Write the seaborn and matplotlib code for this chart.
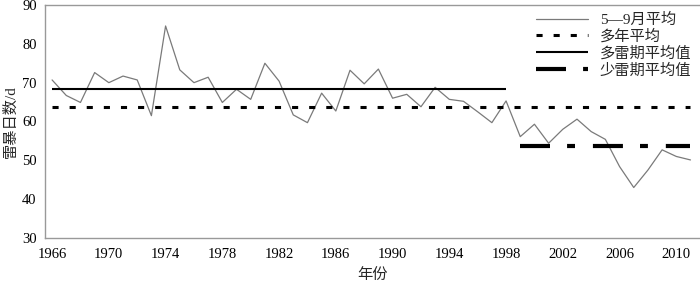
import matplotlib
matplotlib.use("Agg")
import matplotlib.pyplot as plt
import seaborn as sns
import pandas as pd

years = list(range(1966, 2012))
values = [70.7, 66.7, 64.9, 72.6, 70.0, 71.7, 70.7, 61.5, 84.6, 73.3,
          70.0, 71.4, 64.9, 68.3, 65.7, 75.0, 70.4, 61.7, 59.7, 67.3,
          62.7, 73.2, 69.7, 73.5, 66.0, 67.0, 63.8, 68.8, 65.7, 65.2,
          62.5, 59.7, 65.3, 56.1, 59.3, 54.4, 58.0, 60.6, 57.4, 55.4,
          48.4, 43.0, 47.5, 52.7, 51.0, 50.1]
overall_mean = 63.7
high_period = (1966, 1998)
high_mean = 68.3
low_period = (1999, 2011)
low_mean = 53.7
labels = ["5\u20149月平均", "多年平均", "多雷期平均值", "少雷期平均值"]
xticks = list(range(1966, 2012, 4))
yticks = list(range(30, 91, 10))

sns.set_theme(style="white")
plt.rcParams['font.family'] = ['Liberation Serif', 'Noto Sans CJK SC']
plt.rcParams['font.size'] = 11

df = pd.DataFrame({"year": years, "value": values})

fig = plt.figure(figsize=(7.0, 2.85), dpi=100)
ax = fig.add_axes([45/700, 47/285, 654/700, 233/285])

sns.lineplot(data=df, x="year", y="value", ax=ax, color="#7a7a7a",
             linewidth=0.9, label=labels[0])
ax.hlines(overall_mean, years[0], years[-1], colors="black", linewidth=2.2,
          linestyles=(0, (2.0, 3.6)), label=labels[1])
ax.hlines(high_mean, high_period[0], high_period[1], colors="black",
          linewidth=1.5, label=labels[2])
ax.hlines(low_mean, low_period[0], low_period[1], colors="black",
          linewidth=3.0, linestyles=(0, (7.2, 4.1, 1.9, 4.3)), label=labels[3])

ax.set_xlim(1965.5, 2011.6)
ax.set_ylim(30, 90)
ax.set_xticks(xticks)
ax.set_xticks(years, minor=True)
ax.set_yticks(yticks)
ax.tick_params(axis='both', which='both', direction='in', colors='#888888',
               labelcolor='black', labelsize=10.5)
ax.tick_params(axis='x', which='major', length=4, pad=7)
ax.tick_params(axis='x', which='minor', length=4)
ax.tick_params(axis='y', which='major', length=4, pad=6)
for s in ax.spines.values():
    s.set_color('#999999')
    s.set_linewidth(1.0)
ax.spines['right'].set_visible(False)

ax.set_xlabel("年份", fontsize=11, labelpad=5)
ax.set_ylabel("雷暴日数/d", fontsize=11, labelpad=3)

leg = ax.legend(loc='upper right', frameon=False, handlelength=3.4,
                handletextpad=0.8, labelspacing=0.16, fontsize=11,
                borderaxespad=0.1)

fig.savefig("out.png", dpi=100)
